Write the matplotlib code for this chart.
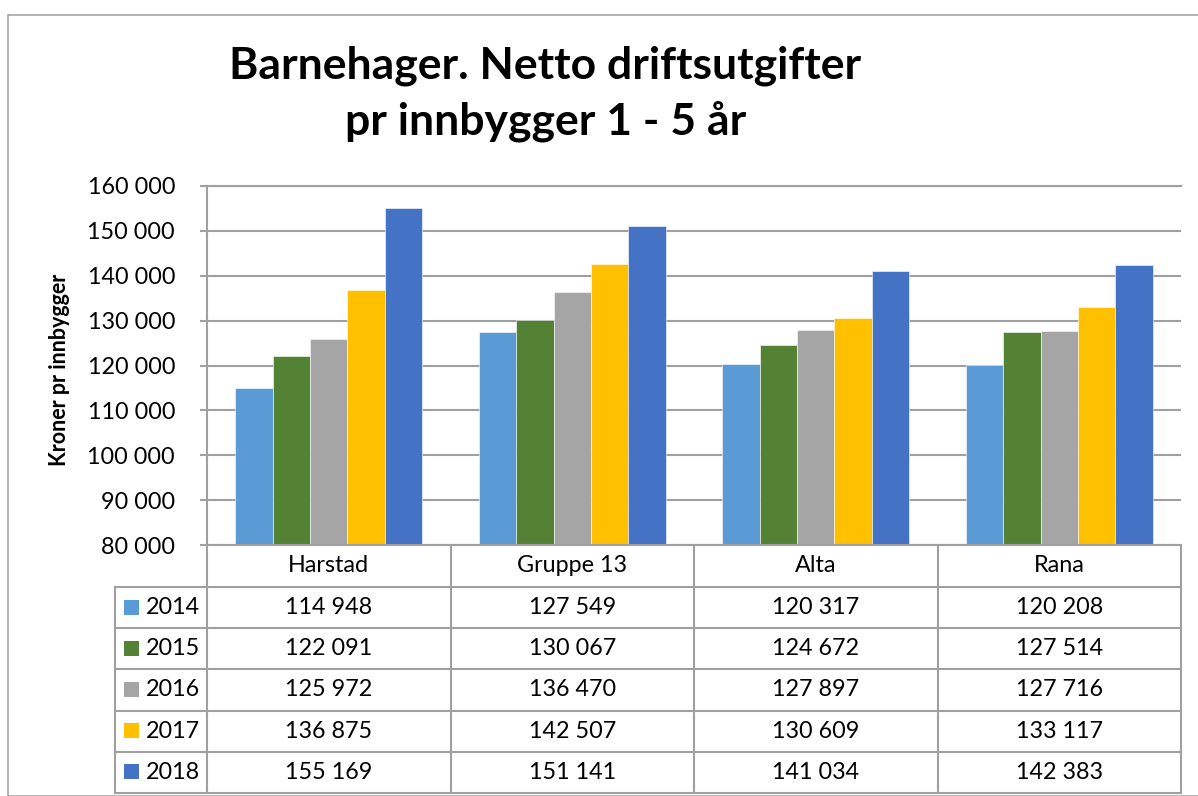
import matplotlib
matplotlib.use("Agg")
import matplotlib.pyplot as plt
from matplotlib.patches import Rectangle
from matplotlib.lines import Line2D

plt.rcParams['font.family'] = ['Lato', 'DejaVu Sans']

categories = ["Harstad", "Gruppe 13", "Alta", "Rana"]
years = ["2014", "2015", "2016", "2017", "2018"]
v2014 = [114948, 127549, 120317, 120208]
v2015 = [122091, 130067, 124672, 127514]
v2016 = [125972, 136470, 127897, 127716]
v2017 = [136875, 142507, 130609, 133117]
v2018 = [155169, 151141, 141034, 142383]
series = [v2014, v2015, v2016, v2017, v2018]
colors = ["#5B9BD5", "#548235", "#A5A5A5", "#FFC000", "#4472C4"]
yticks = list(range(80000, 160001, 10000))

W, H = 1198, 796
fig = plt.figure(figsize=(W / 100, H / 100), dpi=100)
FS = 16.8

def fx(px):
    return px / W

def fy(py):
    return 1 - py / H

# outer border
fig.add_artist(Rectangle((fx(8), fy(796)), fx(1250) - fx(8), fy(15) - fy(796),
                         transform=fig.transFigure, fill=False, edgecolor="#A6A6A6", lw=1.2))

# plot area
L, R, T, B = 207, 1181, 186, 545
ax = fig.add_axes([fx(L), fy(B), fx(R) - fx(L), fy(T) - fy(B)])
n = len(years)
bw = 0.154
for i, (vals, c) in enumerate(zip(series, colors)):
    xs = [k + (i - (n - 1) / 2) * bw for k in range(len(categories))]
    ax.bar(xs, vals, width=bw, color=c, edgecolor="white", linewidth=0.4, zorder=3)
ax.set_xlim(-0.5, len(categories) - 0.5)
ax.set_ylim(80000, 160000)
ax.set_yticks(yticks)
ax.set_yticklabels([f"{t:,}".replace(",", " ") for t in yticks], fontsize=FS)
ax.set_xticks([])
ax.yaxis.grid(True, color="#A0A0A0", lw=1.5, zorder=0)
for s in ["right", "bottom"]:
    ax.spines[s].set_visible(False)
ax.spines["left"].set_color("#A0A0A0")
ax.spines["left"].set_linewidth(1.5)
ax.spines["top"].set_color("#A0A0A0")
ax.spines["top"].set_linewidth(1.5)
ax.tick_params(axis="y", length=5, color="#A0A0A0", width=1.5, pad=18)
fig.text(fx(60), fy(370), "Kroner pr innbygger", rotation=90, ha="center", va="center",
         fontsize=15.5, fontweight="bold")

# title
fig.text(fx(545), fy(66), "Barnehager. Netto driftsutgifter", ha="center", va="center",
         fontsize=32, fontweight="bold")
fig.text(fx(546), fy(121), "pr innbygger 1 - 5 år", ha="center", va="center",
         fontsize=32, fontweight="bold")

# data table
gc = "#A0A0A0"
col_edges = [L + (R - L) * k / len(categories) for k in range(len(categories) + 1)]
hdr_top, hdr_bot = 545, 587
row_h = (793 - 587) / n
row_edges = [587 + row_h * r for r in range(n + 1)]
leftc = 115

def hline(x0, x1, y):
    fig.add_artist(Line2D([fx(x0), fx(x1)], [fy(y), fy(y)], transform=fig.transFigure,
                          color=gc, lw=1.5))

def vline(x, y0, y1):
    fig.add_artist(Line2D([fx(x), fx(x)], [fy(y0), fy(y1)], transform=fig.transFigure,
                          color=gc, lw=1.5))

hline(L, R, hdr_top)
for y in row_edges:
    hline(leftc, R, y)
for x in col_edges:
    vline(x, hdr_top, row_edges[-1])
vline(leftc, row_edges[0], row_edges[-1])

for k, cat in enumerate(categories):
    cx = (col_edges[k] + col_edges[k + 1]) / 2
    fig.text(fx(cx), fy((hdr_top + hdr_bot) / 2), cat, ha="center", va="center", fontsize=FS)
    for r in range(n):
        cy = (row_edges[r] + row_edges[r + 1]) / 2
        fig.text(fx(cx), fy(cy), f"{series[r][k]:,}".replace(",", " "),
                 ha="center", va="center", fontsize=FS)

for r in range(n):
    cy = (row_edges[r] + row_edges[r + 1]) / 2
    fig.add_artist(Rectangle((fx(124), fy(cy + 7)), fx(15), fy(cy - 8) - fy(cy + 7),
                             transform=fig.transFigure, color=colors[r], lw=0))
    fig.text(fx(146), fy(cy), years[r], ha="left", va="center", fontsize=FS)

fig.savefig("out.png", dpi=100)
